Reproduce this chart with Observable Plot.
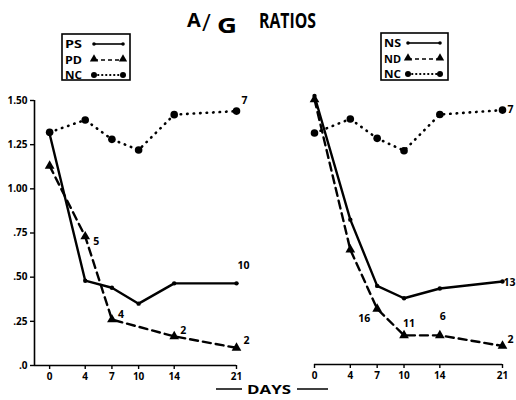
<!DOCTYPE html>
<html>
<head>
<meta charset="utf-8">
<script src="https://cdn.jsdelivr.net/npm/d3@7"></script>
<script src="https://cdn.jsdelivr.net/npm/@observablehq/plot@0.6"></script>
<style>
  html, body { margin: 0; padding: 0; background: #fff; }
  #wrap { position: relative; width: 516px; height: 400px; overflow: hidden; font-family: "Open Sans", "DejaVu Sans", sans-serif; }
  #wrap > * { position: absolute; }
</style>
</head>
<body>
<div id="wrap"></div>
<script>
// ---- data ----
const days = [0, 4, 7, 10, 14, 21];
const yTicks = [0, 0.25, 0.5, 0.75, 1.0, 1.25, 1.5];
const yTickLabels = [".0", ".25", ".50", ".75", "1.00", "1.25", "1.50"];

// left panel
const leftNC = [1.32, 1.39, 1.28, 1.22, 1.42, 1.44];
const leftPS = [1.31, 0.48, 0.44, 0.35, 0.465, 0.465];
const leftPDdays = [0, 4, 7, 14, 21];
const leftPD = [1.13, 0.73, 0.26, 0.165, 0.10];
const leftCounts = [
  {s: "NC", day: 21, n: "7"}, {s: "S", day: 21, n: "10"},
  {s: "D", day: 4, n: "5"}, {s: "D", day: 7, n: "4"},
  {s: "D", day: 14, n: "2"}, {s: "D", day: 21, n: "2"}
];
// right panel
const rightNC = [1.31, 1.39, 1.28, 1.21, 1.415, 1.44];
const rightNS = [1.52, 0.82, 0.445, 0.375, 0.43, 0.47];
const rightNDdays = [0, 4, 7, 10, 14, 21];
const rightND = [1.50, 0.65, 0.315, 0.165, 0.165, 0.105];
const rightCounts = [
  {s: "NC", day: 21, n: "7"}, {s: "S", day: 21, n: "13"},
  {s: "D", day: 7, n: "16"}, {s: "D", day: 10, n: "11"},
  {s: "D", day: 14, n: "6"}, {s: "D", day: 21, n: "2"}
];
const leftLegend = ["PS", "PD", "NC"];
const rightLegend = ["NS", "ND", "NC"];
const title = ["A", "/", "G", "RATIOS"];
const xTitle = "DAYS";

// ---- styles ----
const FONT = "'Open Sans', 'DejaVu Sans', sans-serif";
const LW = 2.4;
const dotted = {strokeDasharray: "0.5,6", strokeLinecap: "round", strokeWidth: 2.6};
const dashed = {strokeDasharray: "8,5", strokeWidth: LW};
// label offsets per panel (pixel nudges)
const leftOffsets = [[8, -10], [7, -18], [11, 5], [9, -5], [9, -6], [10, -7]];
const rightOffsets = [[8, 0], [7, 1], [-13, 10], [5, -12], [3, -19], [8, -6]];

const wrap = document.getElementById("wrap");

function toRows(xs, ys) { return xs.map((x, i) => ({day: x, v: ys[i]})); }

function panel(opts) {
  const nc = toRows(days, opts.nc);
  const s = toRows(days, opts.s);
  const d = toRows(opts.dDays, opts.d);
  const lookup = {NC: nc, S: s, D: d};
  const labelMarks = opts.counts.map((c, i) => {
    const row = lookup[c.s].find(r => r.day === c.day);
    return Plot.text([{day: c.day, v: row.v, n: c.n}], {
      x: "day", y: "v", text: "n", dx: opts.offsets[i][0], dy: opts.offsets[i][1],
      fontSize: 10.5, fontWeight: 700, fill: "black"
    });
  });
  return Plot.plot({
    width: 258, height: 310,
    marginTop: 10, marginBottom: 35,
    marginLeft: opts.marginLeft, marginRight: opts.marginRight,
    x: {domain: opts.xDomain, label: null},
    y: {domain: [0, 1.5], label: null, axis: opts.yAxis ? undefined : null},
    style: {fontFamily: FONT, fontSize: "10px", fontWeight: 700, background: "transparent", overflow: "visible", color: "black"},
    marks: [
      Plot.ruleY([0], {stroke: "black", strokeWidth: 1.6}),
      opts.yAxis ? Plot.ruleX([opts.xDomain[0]], {y1: 0, y2: 1.5, stroke: "black", strokeWidth: 1.6}) : null,
      Plot.axisX({ticks: days, tickSize: 4, tickPadding: 3, tickFormat: t => String(t), stroke: "black", strokeWidth: 1.4, fontWeight: 700, fontSize: 10, label: null}),
      opts.yAxis ? Plot.axisY({ticks: yTicks, tickSize: 4, tickPadding: 3,
        tickFormat: t => yTickLabels[yTicks.indexOf(t)], stroke: "black", strokeWidth: 1.4, fontWeight: 700, fontSize: 10, label: null}) : null,
      Plot.line(nc, {x: "day", y: "v", stroke: "black", ...dotted}),
      Plot.line(d, {x: "day", y: "v", stroke: "black", ...dashed}),
      Plot.line(s, {x: "day", y: "v", stroke: "black", strokeWidth: LW}),
      Plot.dot(nc, {x: "day", y: "v", r: 3.8, fill: "black"}),
      Plot.dot(d, {x: "day", y: "v", symbol: "triangle", r: 3.6, fill: "black"}),
      Plot.dot(s, {x: "day", y: "v", r: 2.2, fill: "black"}),
      ...labelMarks
    ]
  });
}

const left = panel({nc: leftNC, s: leftPS, d: leftPD, dDays: leftPDdays, counts: leftCounts,
  offsets: leftOffsets, yAxis: true, xDomain: [-1.7, 21], marginLeft: 34, marginRight: 22});
left.style.left = "0px"; left.style.top = "90px";
wrap.appendChild(left);

const right = panel({nc: rightNC, s: rightNS, d: rightND, dDays: rightNDdays, counts: rightCounts,
  offsets: rightOffsets, yAxis: false, xDomain: [0, 21], marginLeft: 56, marginRight: 14});
right.style.left = "258px"; right.style.top = "89px";
wrap.appendChild(right);

// ---- header: title + legends ----
const hdr = d3.create("svg").attr("width", 516).attr("height", 90)
  .style("left", "0px").style("top", "0px")
  .style("font-family", FONT).style("font-weight", 700);
hdr.append("text").attr("x", 187).attr("y", 27).attr("font-size", 20).text(title[0]);
hdr.append("text").attr("x", 202).attr("y", 31).attr("font-size", 24).attr("font-weight", 400).text(title[1]);
hdr.append("text").attr("x", 217).attr("y", 33).attr("font-size", 21)
  .attr("textLength", 20).attr("lengthAdjust", "spacingAndGlyphs").text(title[2]);
hdr.append("text").attr("x", 259).attr("y", 28).attr("font-size", 21)
  .attr("textLength", 57).attr("lengthAdjust", "spacingAndGlyphs").text(title[3]);

function legend(x0, y0, w, h, names, sx0, sx1) {
  const g = hdr.append("g");
  g.append("rect").attr("x", x0).attr("y", y0).attr("width", w).attr("height", h)
    .attr("fill", "none").attr("stroke", "black").attr("stroke-width", 1.6);
  const rows = [y0 + 10, y0 + 26, y0 + 41];
  names.forEach((nm, i) => {
    g.append("text").attr("x", x0 + 3).attr("y", rows[i] + 4).attr("font-size", 10.5)
      .attr("textLength", 17).attr("lengthAdjust", "spacingAndGlyphs").text(nm);
    const ln = g.append("line").attr("x1", sx0).attr("x2", sx1).attr("y1", rows[i]).attr("y2", rows[i])
      .attr("stroke", "black");
    if (i === 0) {
      ln.attr("stroke-width", 1.6);
      [sx0, sx1].forEach(x => g.append("circle").attr("cx", x).attr("cy", rows[i]).attr("r", 1.8));
    } else if (i === 1) {
      ln.attr("stroke-width", 1.6).attr("stroke-dasharray", "4,3");
      [sx0, sx1].forEach(x => g.append("path").attr("d", d3.symbol(d3.symbolTriangle, 30)())
        .attr("transform", `translate(${x},${rows[i] - 1})`));
    } else {
      ln.attr("stroke-width", 1.8).attr("stroke-dasharray", "0.5,3.5").attr("stroke-linecap", "round");
      [sx0, sx1].forEach(x => g.append("circle").attr("cx", x).attr("cy", rows[i]).attr("r", 3));
    }
  });
}
legend(62, 34, 68, 46, leftLegend, 94, 123);
legend(381, 33, 67, 47, rightLegend, 408, 440);
wrap.appendChild(hdr.node());

// ---- x title "— DAYS —" ----
const ft = d3.create("svg").attr("width", 516).attr("height", 30)
  .style("left", "0px").style("top", "372px")
  .style("font-family", FONT).style("font-weight", 700);
ft.append("line").attr("x1", 216).attr("x2", 242).attr("y1", 17).attr("y2", 17).attr("stroke", "black").attr("stroke-width", 1.5);
ft.append("line").attr("x1", 297).attr("x2", 328).attr("y1", 17).attr("y2", 17).attr("stroke", "black").attr("stroke-width", 1.5);
ft.append("text").attr("x", 247).attr("y", 22).attr("font-size", 13)
  .attr("textLength", 44).attr("lengthAdjust", "spacingAndGlyphs").text(xTitle);
wrap.appendChild(ft.node());
</script>
</body>
</html>
